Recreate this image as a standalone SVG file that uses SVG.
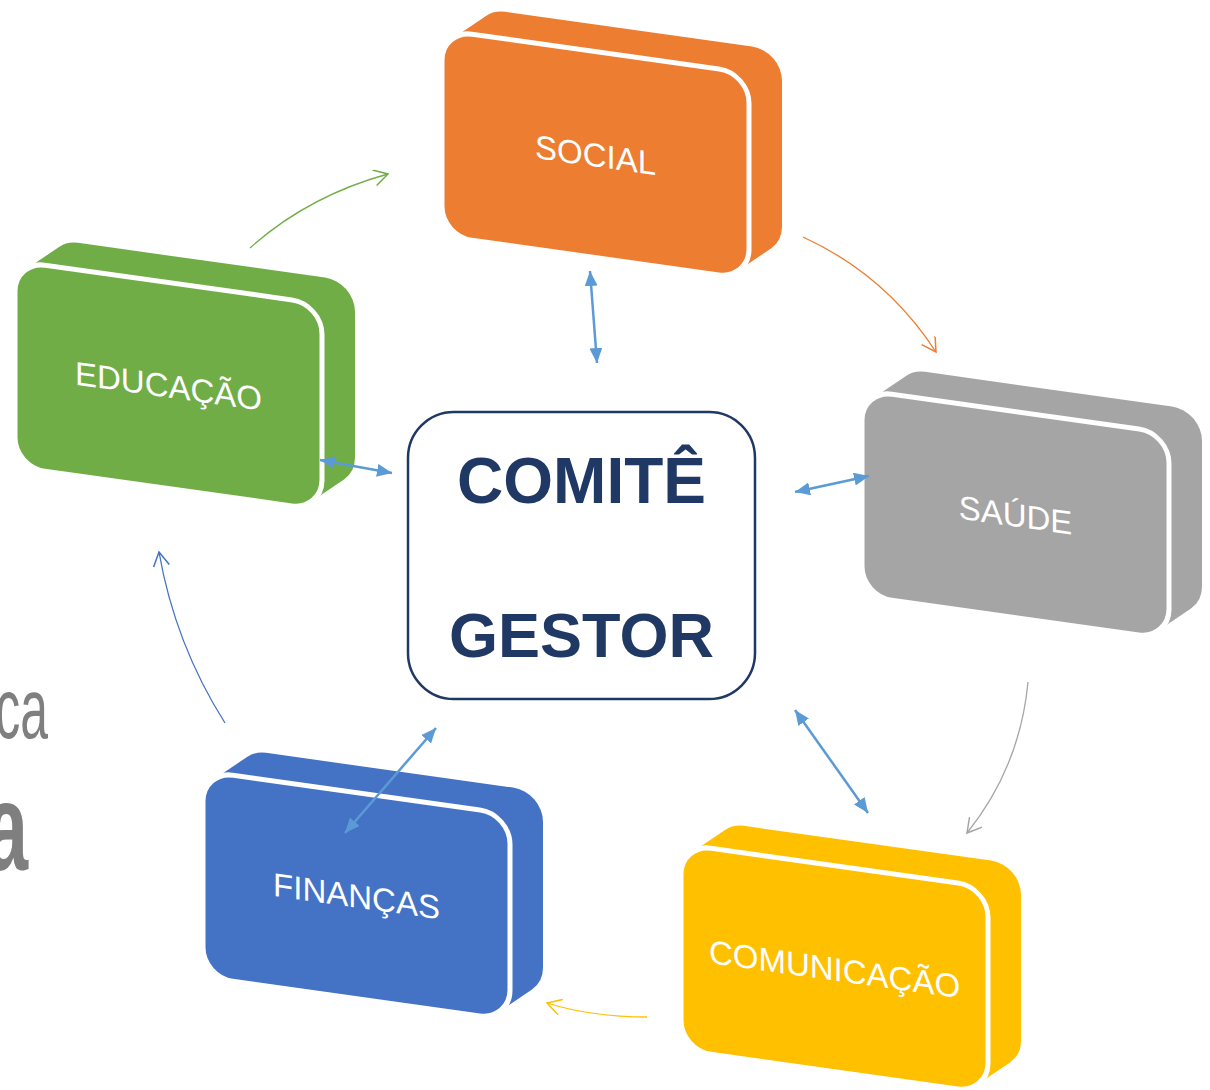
<svg xmlns="http://www.w3.org/2000/svg" xmlns:xlink="http://www.w3.org/1999/xlink" width="1210" height="1090" viewBox="0 0 1210 1090">
<style>
.lbl{font-family:"Liberation Sans",Arial,sans-serif;font-size:33px;fill:#fff;text-anchor:middle}
.face{stroke:#fff;stroke-width:5}
.ctr{font-family:"Liberation Sans",Arial,sans-serif;font-weight:bold;fill:#203864;text-anchor:middle}
.bg{font-family:"Liberation Sans",Arial,sans-serif;fill:#7f7f7f;text-anchor:end}
.dbl{stroke:#5b9bd5;stroke-width:2.5;fill:none;marker-start:url(#tri);marker-end:url(#tri)}
.cyc{fill:none;stroke-width:1.3}
</style>
<defs>
<path id="back" d="M11,6.8 L44,-20.2 A30,30 0 0 1 63,-27 L310,-27 A30,30 0 0 1 340,3 L340,149 A30,30 0 0 1 329,172.2 L296,199.2 Z"/>
<rect id="face" width="307" height="206" rx="30" ry="30"/>
<marker id="tri" markerUnits="userSpaceOnUse" markerWidth="16" markerHeight="14" refX="15" refY="6.5" orient="auto-start-reverse" viewBox="0 0 16 14">
<path d="M0,0 L15,6.5 L0,13 Z" fill="#5b9bd5"/>
</marker>
<marker id="mg" markerUnits="userSpaceOnUse" markerWidth="18" markerHeight="18" refX="15" refY="8" orient="auto" viewBox="0 0 18 18"><path d="M1,0 L15,8 L1,16" fill="none" stroke="#70ad47" stroke-width="1.5"/></marker>
<marker id="mo" markerUnits="userSpaceOnUse" markerWidth="18" markerHeight="18" refX="15" refY="8" orient="auto" viewBox="0 0 18 18"><path d="M1,0 L15,8 L1,16" fill="none" stroke="#ed7d31" stroke-width="1.5"/></marker>
<marker id="ma" markerUnits="userSpaceOnUse" markerWidth="18" markerHeight="18" refX="15" refY="8" orient="auto" viewBox="0 0 18 18"><path d="M1,0 L15,8 L1,16" fill="none" stroke="#a5a5a5" stroke-width="1.5"/></marker>
<marker id="my" markerUnits="userSpaceOnUse" markerWidth="18" markerHeight="18" refX="15" refY="8" orient="auto" viewBox="0 0 18 18"><path d="M1,0 L15,8 L1,16" fill="none" stroke="#ffc000" stroke-width="1.5"/></marker>
<marker id="mb" markerUnits="userSpaceOnUse" markerWidth="18" markerHeight="18" refX="15" refY="8" orient="auto" viewBox="0 0 18 18"><path d="M1,0 L15,8 L1,16" fill="none" stroke="#4472c4" stroke-width="1.5"/></marker>
</defs>
<rect width="1210" height="1090" fill="#fff"/>

<text class="bg" transform="translate(48,738) scale(0.58,1)" x="0" y="0" font-size="86">ca</text>
<text class="bg" transform="translate(28,870) scale(0.62,1)" x="0" y="0" font-size="125" font-weight="bold">a</text>

<g id="social" transform="translate(442,30) skewY(8)">
<use xlink:href="#back" fill="#ed7d31"/>
<use xlink:href="#face" class="face" fill="#ed7d31"/>
<text class="lbl" x="153.5" y="115">SOCIAL</text>
</g>
<g id="educacao" transform="translate(15,261) skewY(8)">
<use xlink:href="#back" fill="#70ad47"/>
<use xlink:href="#face" class="face" fill="#70ad47"/>
<text class="lbl" x="153.5" y="115">EDUCAÇÃO</text>
</g>
<g id="saude" transform="translate(862,390) skewY(8)">
<use xlink:href="#back" fill="#a5a5a5"/>
<use xlink:href="#face" class="face" fill="#a5a5a5"/>
<text class="lbl" x="153.5" y="115">SAÚDE</text>
</g>
<g id="comunicacao" transform="translate(681,844) skewY(8)">
<use xlink:href="#back" fill="#ffc000"/>
<use xlink:href="#face" class="face" fill="#ffc000"/>
<text class="lbl" x="153.5" y="115">COMUNICAÇÃO</text>
</g>
<g id="financas" transform="translate(203,771) skewY(8)">
<use xlink:href="#back" fill="#4472c4"/>
<use xlink:href="#face" class="face" fill="#4472c4"/>
<text class="lbl" x="153.5" y="115">FINANÇAS</text>
</g>

<g id="comite">
<rect x="408" y="412" width="347" height="287" rx="46" ry="46" fill="#fff" stroke="#203864" stroke-width="2.5"/>
<text class="ctr" x="581.5" y="503" font-size="64">COMITÊ</text>
<text class="ctr" x="581.5" y="657" font-size="63">GESTOR</text>
</g>

<g id="connectors">
<path class="cyc" stroke="#70ad47" marker-end="url(#mg)" d="M250,248 Q308,196 388,174"/>
<path class="cyc" stroke="#ed7d31" marker-end="url(#mo)" d="M803,237 Q886,275 936,352"/>
<path class="cyc" stroke="#a5a5a5" marker-end="url(#ma)" d="M1028,682 Q1020,767 967,833"/>
<path class="cyc" stroke="#ffc000" marker-end="url(#my)" d="M647,1017 Q592,1017 547,1003"/>
<path class="cyc" stroke="#4472c4" marker-end="url(#mb)" d="M225,723 Q175,644 159,552"/>
<path class="dbl" d="M590,271 L597,363"/>
<path class="dbl" d="M320,460 L392,473"/>
<path class="dbl" d="M795,492 L869,476"/>
<path class="dbl" d="M795,710 L868,813"/>
<path class="dbl" d="M436,728 L345,833"/>
</g>
</svg>
